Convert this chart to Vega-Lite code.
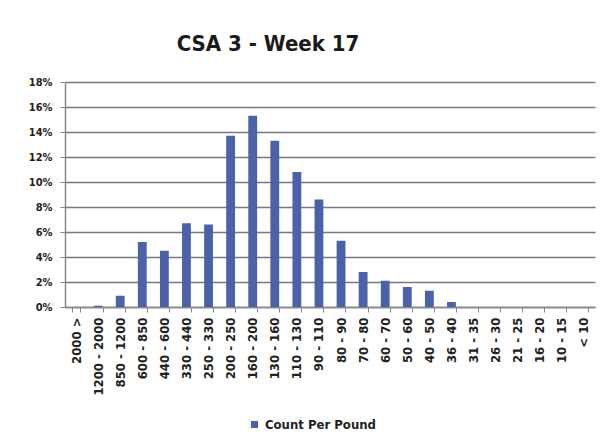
{
  "$schema": "https://vega.github.io/schema/vega-lite/v6.json",
  "autosize": "none",
  "width": 530,
  "height": 225,
  "padding": {"left": 65, "top": 82, "right": 10, "bottom": 134},
  "background": "white",
  "title": {
    "text": "CSA 3 - Week 17",
    "font": "Liberation Sans Narrow, DejaVu Sans Condensed, Open Sans",
    "fontSize": 22,
    "fontWeight": "bold",
    "color": "#1a1a1a",
    "anchor": "middle",
    "dx": -62,
    "offset": 20
  },
  "data": {
    "values": [
      {"size": "2000 >", "pct": 0.0},
      {"size": "1200 - 2000", "pct": 0.001},
      {"size": "850 - 1200", "pct": 0.009},
      {"size": "600 - 850", "pct": 0.052},
      {"size": "440 - 600", "pct": 0.045},
      {"size": "330 - 440", "pct": 0.067},
      {"size": "250 - 330", "pct": 0.066},
      {"size": "200 - 250", "pct": 0.137},
      {"size": "160 - 200", "pct": 0.153},
      {"size": "130 - 160", "pct": 0.133},
      {"size": "110 - 130", "pct": 0.108},
      {"size": "90 - 110", "pct": 0.086},
      {"size": "80 - 90", "pct": 0.053},
      {"size": "70 - 80", "pct": 0.028},
      {"size": "60 - 70", "pct": 0.021},
      {"size": "50 - 60", "pct": 0.016},
      {"size": "40 - 50", "pct": 0.013},
      {"size": "36 - 40", "pct": 0.004},
      {"size": "31 - 35", "pct": 0.0},
      {"size": "26 - 30", "pct": 0.0},
      {"size": "21 - 25", "pct": 0.0},
      {"size": "16 - 20", "pct": 0.0},
      {"size": "10 - 15", "pct": 0.0},
      {"size": "< 10", "pct": 0.0}
    ]
  },
  "mark": {"type": "bar", "color": "#33539b"},
  "encoding": {
    "x": {
      "field": "size",
      "type": "nominal",
      "sort": null,
      "title": null,
      "scale": {"paddingInner": 0.6, "paddingOuter": 0.3},
      "axis": {
        "labelAngle": -90,
        "labelFont": "DejaVu Sans Condensed, Liberation Sans Narrow, Open Sans",
        "labelFontSize": 13,
        "labelFontWeight": "bold",
        "labelColor": "#222222",
        "labelPadding": 5,
        "domainColor": "#888888",
        "domainWidth": 1.5,
        "tickColor": "#888888",
        "tickSize": 5,
        "tickBand": "extent",
        "grid": false
      }
    },
    "y": {
      "field": "pct",
      "type": "quantitative",
      "title": null,
      "scale": {"domain": [0, 0.18]},
      "axis": {
        "format": ".0%",
        "values": [0, 0.02, 0.04, 0.06, 0.08, 0.1, 0.12, 0.14, 0.16, 0.18],
        "labelFont": "DejaVu Sans Condensed, Liberation Sans Narrow, Open Sans",
        "labelFontSize": 11,
        "labelFontWeight": "bold",
        "labelColor": "#222222",
        "labelPadding": 8,
        "domainColor": "#888888",
        "domainWidth": 1.5,
        "tickColor": "#888888",
        "tickSize": 5,
        "gridColor": "#7a7a7a",
        "gridWidth": 1.5
      }
    },
    "fill": {
      "datum": "Count Per Pound",
      "scale": {"range": ["#4a62a8"]},
      "legend": {
        "title": null,
        "orient": "none",
        "legendX": 183,
        "legendY": 336,
        "symbolType": "square",
        "symbolSize": 50,
        "labelFont": "DejaVu Sans Condensed, Liberation Sans Narrow, Open Sans",
        "labelFontSize": 13,
        "labelFontWeight": "bold",
        "labelColor": "#222222"
      }
    }
  },
  "config": {"view": {"stroke": null}}
}
